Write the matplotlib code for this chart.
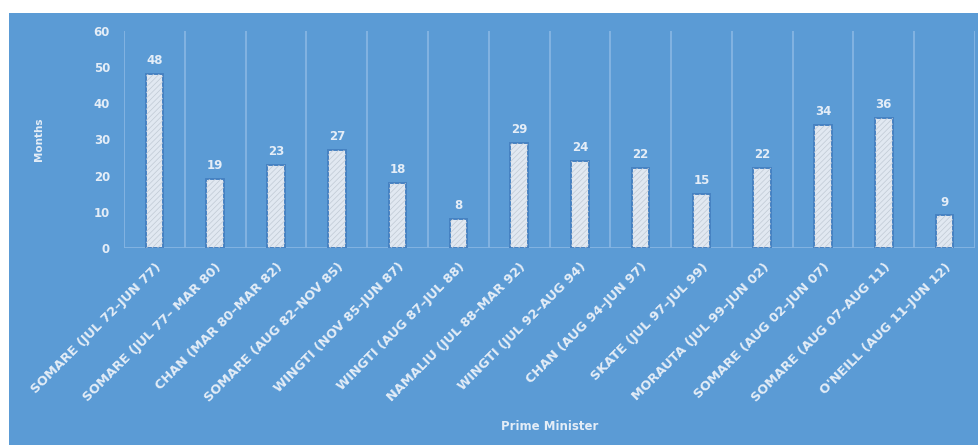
from matplotlib import pyplot as plt
from matplotlib.patches import Rectangle
import numpy as np

labels = ["SOMARE (JUL 72–JUN 77)", "SOMARE (JUL 77– MAR 80)", "CHAN (MAR 80–MAR 82)",
          "SOMARE (AUG 82–NOV 85)", "WINGTI (NOV 85–JUN 87)", "WINGTI (AUG 87–JUL 88)",
          "NAMALIU (JUL 88–MAR 92)", "WINGTI (JUL 92–AUG 94)", "CHAN (AUG 94–JUN 97)",
          "SKATE (JUL 97–JUL 99)", "MORAUTA (JUL 99–JUN 02)", "SOMARE (AUG 02–JUN 07)",
          "SOMARE (AUG 07–AUG 11)", "O'NEILL (AUG 11–JUN 12)"]
months = [48, 19, 23, 27, 18, 8, 29, 24, 22, 15, 22, 34, 36, 9]

BG = "#5b9bd5"
GRID = "#86b5e3"
TXT = "#e4edf7"

fig = plt.figure(figsize=(9.79, 4.45), dpi=100, facecolor="white")
fig.patches.append(Rectangle((9 / 979, 0), 1, 1 - 13 / 445, transform=fig.transFigure,
                             facecolor=BG, edgecolor="none", zorder=-10))
ax = fig.add_axes([124 / 979, 1 - 248 / 445, (975 - 124) / 979, (248 - 31) / 445])
ax.set_facecolor("none")

x = np.arange(len(months))
plt.rcParams['hatch.linewidth'] = 0.5
ax.bar(x, months, width=0.29, color="#e1e8f1", edgecolor="#4682c2", linewidth=1.4, zorder=3)
plt.rcParams['hatch.color'] = "#c0c9d4"
ax.bar(x, months, width=0.29, color="none", edgecolor="#c0c9d4", linewidth=0,
       hatch="//////", zorder=4)

for xi, v in zip(x, months):
    ax.annotate(str(v), (xi, v), xytext=(0, 5), textcoords="offset points",
                ha="center", va="bottom", color=TXT, fontsize=8.5, fontweight="bold")

ax.set_xlim(-0.5, len(months) - 0.5)
ax.set_ylim(0, 60)
ax.set_yticks(np.arange(0, 61, 10))
ax.set_xticks(x)
ax.set_xticklabels(labels, rotation=45, ha="right", rotation_mode="anchor",
                   fontsize=9.3, fontweight="bold", color=TXT)
ax.tick_params(axis="y", colors=TXT, labelsize=8.5, length=0, pad=10)
ax.tick_params(axis="x", length=0, pad=9)
for lab in ax.get_yticklabels():
    lab.set_fontweight("bold")

for b in np.arange(-0.5, len(months), 1):
    ax.axvline(b, color=GRID, linewidth=1.3, zorder=1)
for s in ax.spines.values():
    s.set_visible(False)
ax.axhline(0, color=GRID, linewidth=2, zorder=2)

ax.set_ylabel("Months", color=TXT, fontsize=7.5, fontweight="bold", labelpad=36)
ax.set_xlabel("Prime Minister", color=TXT, fontsize=8.5, fontweight="bold", labelpad=11)

plt.savefig("out.png", dpi=100, facecolor="white")
